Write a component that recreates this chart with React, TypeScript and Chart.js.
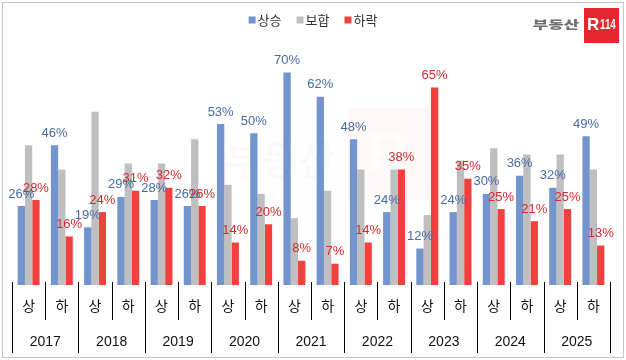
import React, { useEffect, useRef } from "react";
import { Chart, registerables } from "chart.js";

Chart.register(...registerables);

const years = ["2017", "2018", "2019", "2020", "2021", "2022", "2023", "2024", "2025"];
const halves = ["상", "하"];
const categories = years.flatMap((y) => halves.map((h) => `${y} ${h}`));
const seriesNames = ["상승", "보합", "하락"];
const rise = [26, 46, 19, 29, 28, 26, 53, 50, 70, 62, 48, 24, 12, 24, 30, 36, 32, 49];
const flat = [46, 38, 57, 40, 40, 48, 33, 30, 22, 31, 38, 38, 23, 41, 45, 43, 43, 38];
const fall = [28, 16, 24, 31, 32, 26, 14, 20, 8, 7, 14, 38, 65, 35, 25, 21, 25, 13];

const BAR_COLORS = ["#7394CC", "#BFBFBF", "#F2403F"];
const LABEL_COLORS = ["#4A6AA5", null, "#D42A2C"];
const KR = '"Noto Sans CJK KR", "Noto Sans", sans-serif';
const LAT = '"Liberation Sans", Arial, sans-serif';

const decorPlugin = {
  id: "decor",
  beforeDatasetsDraw(chart: any) {
    const ctx = chart.ctx as CanvasRenderingContext2D;
    ctx.save();
    // faint watermark
    ctx.fillStyle = "rgba(240,60,60,0.035)";
    ctx.fillRect(348, 108, 82, 92);
    ctx.fillStyle = "rgba(0,0,0,0.02)";
    ctx.font = `bold 40px ${KR}`;
    ctx.textAlign = "center";
    ctx.textBaseline = "middle";
    ctx.fillText("부동산", 280, 160);
    ctx.fillStyle = "rgba(255,255,255,0.5)";
    ctx.font = `bold 56px ${LAT}`;
    ctx.fillText("R", 388, 156);
    ctx.restore();
  },
  afterDraw(chart: any) {
    const ctx = chart.ctx as CanvasRenderingContext2D;
    const area = chart.chartArea;
    const n = categories.length;
    const w = (area.right - area.left) / n;
    const base = area.bottom;
    ctx.save();
    // outer frame
    ctx.strokeStyle = "#C4C4C4";
    ctx.lineWidth = 1;
    ctx.strokeRect(2.5, 2.5, 621, 355);

    // x axis dividers
    ctx.strokeStyle = "#000";
    ctx.lineWidth = 1;
    for (let i = 0; i <= n; i++) {
      const x = Math.round(area.left + i * w) + 0.5;
      ctx.beginPath();
      ctx.moveTo(x, base - 3);
      ctx.lineTo(x, i % 2 === 0 ? 353 : 320);
      ctx.stroke();
    }
    ctx.fillStyle = "#111";
    ctx.textAlign = "center";
    ctx.textBaseline = "middle";
    ctx.font = `14px ${KR}`;
    categories.forEach((c, i) => {
      ctx.fillText(halves[i % 2], area.left + (i + 0.5) * w, 306);
    });
    ctx.font = `14px ${LAT}`;
    years.forEach((y, i) => {
      ctx.fillText(y, area.left + (2 * i + 1) * w, 342);
    });

    // legend
    ctx.font = `13px ${KR}`;
    const sq = 7;
    const gapTxt = 2;
    const gapItem = 15;
    const widths = seriesNames.map((s) => ctx.measureText(s).width);
    const total = widths.reduce((a, b) => a + b, 0) + seriesNames.length * (sq + gapTxt) + gapItem * (seriesNames.length - 1);
    let lx = 313 - total / 2;
    const ly = 20;
    ctx.textAlign = "left";
    seriesNames.forEach((s, i) => {
      ctx.fillStyle = BAR_COLORS[i];
      ctx.fillRect(lx, ly - 3.5, sq, sq);
      lx += sq + gapTxt;
      ctx.fillStyle = "#333";
      ctx.fillText(s, lx, ly + 0.5);
      lx += widths[i] + gapItem;
    });

    // logo
    ctx.save();
    ctx.translate(556, 25);
    ctx.scale(1.05, 0.72);
    ctx.fillStyle = "#6E6E6E";
    ctx.font = `900 16px ${KR}`;
    ctx.textAlign = "center";
    ctx.fillText("부동산", 0, 0);
    ctx.restore();
    ctx.fillStyle = "#E5282F";
    ctx.fillRect(584, 8, 35, 35);
    ctx.fillStyle = "#fff";
    ctx.textAlign = "left";
    ctx.font = `bold 17px ${LAT}`;
    ctx.fillText("R", 587, 25);
    ctx.save();
    ctx.translate(600, 25);
    ctx.scale(0.7, 1);
    ctx.font = `bold 14px ${LAT}`;
    ctx.fillText("114", 0, 0);
    ctx.restore();

    // data labels
    ctx.font = `13px ${LAT}`;
    ctx.textAlign = "center";
    ctx.textBaseline = "middle";
    chart.data.datasets.forEach((ds: any, di: number) => {
      const col = LABEL_COLORS[di];
      if (!col) return;
      const meta = chart.getDatasetMeta(di);
      meta.data.forEach((bar: any, j: number) => {
        ctx.fillStyle = col;
        ctx.fillText(`${ds.data[j]}%`, bar.x, bar.y - 12);
      });
    });
    ctx.restore();
  },
};

export default function App() {
  const ref = useRef<HTMLCanvasElement>(null);
  useEffect(() => {
    document.body.style.margin = "0";
    const canvas = ref.current!;
    const chart = new Chart(canvas, {
      type: "bar",
      data: {
        labels: categories,
        datasets: [rise, flat, fall].map((d, i) => ({
          label: seriesNames[i],
          data: d,
          backgroundColor: BAR_COLORS[i],
          borderWidth: 0,
          categoryPercentage: 0.66,
          barPercentage: 1,
        })),
      },
      options: {
        responsive: false,
        animation: false,
        devicePixelRatio: 1,
        layout: { padding: { left: 12, right: 16, top: 42, bottom: 75 } },
        plugins: { legend: { display: false }, tooltip: { enabled: false } },
        scales: {
          x: { display: false },
          y: { display: false, min: 0, max: 80 },
        },
      },
      plugins: [decorPlugin],
    });
    return () => chart.destroy();
  }, []);
  return (
    <div style={{ position: "absolute", left: 0, top: 0, width: 626, height: 360, background: "#fff" }}>
      <canvas ref={ref} width={626} height={360} />
    </div>
  );
}
